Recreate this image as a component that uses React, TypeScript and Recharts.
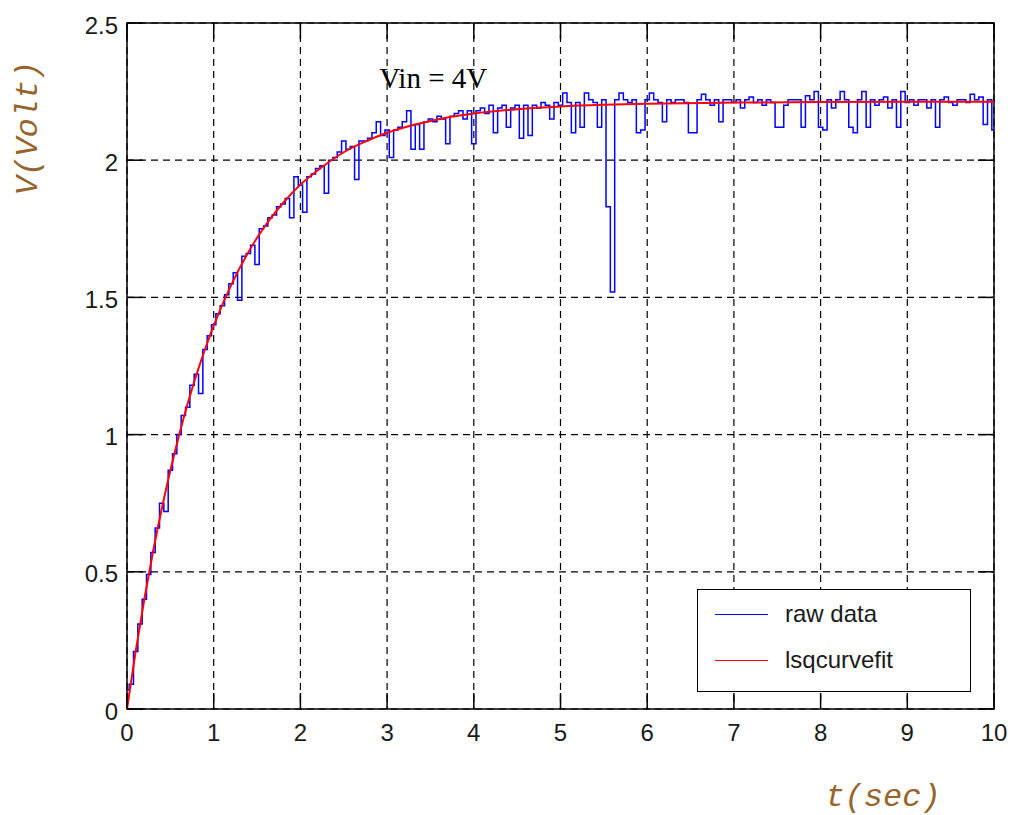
import {
  LineChart,
  Line,
  XAxis,
  YAxis,
  CartesianGrid,
  ReferenceArea,
  ReferenceDot,
} from 'recharts';

// capacitor charging, sampled every 50 ms
const SAMPLE_PERIOD = 0.05;
const rawVolts = [
  0.07, 0.09, 0.21, 0.31, 0.40, 0.49, 0.57, 0.66, 0.75, 0.72,
  0.87, 0.93, 1.00, 1.07, 1.10, 1.18, 1.22, 1.15, 1.31, 1.36,
  1.40, 1.44, 1.47, 1.51, 1.55, 1.59, 1.49, 1.65, 1.66, 1.69,
  1.62, 1.75, 1.76, 1.79, 1.80, 1.83, 1.84, 1.86, 1.79, 1.94,
  1.91, 1.81, 1.94, 1.95, 1.97, 1.98, 1.88, 2.00, 2.01, 2.03,
  2.07, 2.04, 2.05, 1.93, 2.07, 2.07, 2.08, 2.10, 2.14, 2.09,
  2.11, 2.01, 2.11, 2.12, 2.14, 2.18, 2.04, 2.13, 2.04, 2.14,
  2.15, 2.14, 2.16, 2.15, 2.06, 2.16, 2.17, 2.18, 2.15, 2.18,
  2.06, 2.18, 2.19, 2.17, 2.20, 2.10, 2.19, 2.20, 2.12, 2.19,
  2.20, 2.08, 2.20, 2.09, 2.20, 2.19, 2.21, 2.20, 2.15, 2.21,
  2.20, 2.245, 2.21, 2.10, 2.21, 2.12, 2.245, 2.22, 2.21, 2.12,
  2.22, 1.83, 1.52, 2.22, 2.245, 2.22, 2.21, 2.22, 2.10, 2.11,
  2.22, 2.245, 2.22, 2.21, 2.14, 2.22, 2.21, 2.22, 2.22, 2.21,
  2.10, 2.10, 2.22, 2.24, 2.22, 2.20, 2.22, 2.14, 2.22, 2.22,
  2.21, 2.22, 2.19, 2.22, 2.23, 2.21, 2.22, 2.20, 2.22, 2.21,
  2.12, 2.12, 2.20, 2.22, 2.22, 2.22, 2.12, 2.235, 2.22, 2.25,
  2.12, 2.11, 2.22, 2.19, 2.22, 2.25, 2.22, 2.12, 2.10, 2.22,
  2.25, 2.12, 2.22, 2.20, 2.22, 2.23, 2.19, 2.22, 2.12, 2.25,
  2.21, 2.22, 2.20, 2.22, 2.22, 2.19, 2.22, 2.12, 2.22, 2.23,
  2.21, 2.20, 2.22, 2.22, 2.21, 2.24, 2.22, 2.23, 2.13, 2.22,
  2.11,
];

// lsqcurvefit result
const fitTime = [
  0, 0.1, 0.2, 0.3, 0.4, 0.5, 0.6, 0.7, 0.8, 0.9, 1.0, 1.2, 1.4, 1.6, 1.8,
  2.0, 2.25, 2.5, 2.75, 3.0, 3.5, 4.0, 4.5, 5.0, 5.5, 6.0, 7.0, 8.0, 9.0, 10.0,
];
const fitVolts = [
  0, 0.21, 0.4, 0.573, 0.728, 0.869, 0.997, 1.113, 1.217, 1.311, 1.397, 1.544,
  1.665, 1.764, 1.844, 1.911, 1.975, 2.029, 2.068, 2.1, 2.143, 2.17, 2.186,
  2.196, 2.202, 2.206, 2.21, 2.212, 2.213, 2.213,
];

const xTicks = [0, 1, 2, 3, 4, 5, 6, 7, 8, 9, 10];
const yTicks = [0, 0.5, 1, 1.5, 2, 2.5];

const legendItems = [
  { name: 'raw data', color: '#0000ff' },
  { name: 'lsqcurvefit', color: '#ff0000' },
];

const rawData = rawVolts.map((v, i) => ({ t: +(i * SAMPLE_PERIOD).toFixed(2), v }));
const fitData = fitTime.map((t, i) => ({ t, v: fitVolts[i] }));

const W = 1012;
const H = 815;
const PLOT_W = 867;
const PLOT_H = 686;
const TICK_LEN = 16;
const TICK_FONT = { fontFamily: 'Arial, "Liberation Sans", sans-serif', fontSize: 24, fill: '#1a1a1a' };
const TITLE_FONT = {
  fontFamily: '"Liberation Mono", "DejaVu Sans Mono", monospace',
  fontStyle: 'italic',
  fontSize: 32,
  fill: '#97652c',
};

// matlab style: ticks point inward on all four sides
function XTick({ x, y, payload }: any) {
  return (
    <g>
      <line x1={x} y1={y} x2={x} y2={y - TICK_LEN} stroke="#000" strokeWidth={1.5} />
      <line x1={x} y1={y - PLOT_H} x2={x} y2={y - PLOT_H + TICK_LEN} stroke="#000" strokeWidth={1.5} />
      <text x={x} y={y + 23} textAnchor="middle" dominantBaseline="central" {...TICK_FONT}>
        {payload.value}
      </text>
    </g>
  );
}

function YTick({ x, y, payload }: any) {
  return (
    <g>
      <line x1={x} y1={y} x2={x + TICK_LEN} y2={y} stroke="#000" strokeWidth={1.5} />
      <line x1={x + PLOT_W} y1={y} x2={x + PLOT_W - TICK_LEN} y2={y} stroke="#000" strokeWidth={1.5} />
      <text x={x - 9} y={y + 2} textAnchor="end" dominantBaseline="central" {...TICK_FONT}>
        {payload.value}
      </text>
    </g>
  );
}

function LegendBox() {
  return (
    <div
      style={{
        position: 'absolute',
        left: 697,
        top: 589,
        width: 272,
        height: 101,
        border: '1.5px solid #000',
        background: '#fff',
      }}
    >
      {legendItems.map((it, i) => (
        <div
          key={it.name}
          style={{
            position: 'absolute',
            left: 17,
            top: 24 + i * 46 - 16,
            height: 32,
            display: 'flex',
            alignItems: 'center',
          }}
        >
          <div style={{ width: 53, height: 0, borderTop: `1.5px solid ${it.color}` }} />
          <span
            style={{
              marginLeft: 17,
              fontFamily: 'Arial, "Liberation Sans", sans-serif',
              fontSize: 24,
              color: '#1a1a1a',
            }}
          >
            {it.name}
          </span>
        </div>
      ))}
    </div>
  );
}

export default function App() {
  return (
    <div style={{ position: 'absolute', left: 0, top: 0, width: W, height: H, background: '#fff' }}>
      <LineChart width={W} height={H} margin={{ top: 23, right: 18, bottom: 0, left: 0 }}>
        <CartesianGrid stroke="#000" strokeDasharray="7 5" strokeWidth={1.2} />
        <XAxis
          dataKey="t"
          type="number"
          domain={[0, 10]}
          ticks={xTicks}
          interval={0}
          height={106}
          axisLine={false}
          tickLine={false}
          tickSize={0}
          tickMargin={0}
          tick={<XTick />}
          allowDuplicatedCategory={false}
          label={{
            content: ({ viewBox }: any) => (
              <text x={viewBox.x + viewBox.width - 111} y={viewBox.y + 97} textAnchor="middle" {...TITLE_FONT}>
                t(sec)
              </text>
            ),
          }}
        />
        <YAxis
          type="number"
          domain={[0, 2.5]}
          ticks={yTicks}
          interval={0}
          width={127}
          axisLine={false}
          tickLine={false}
          tickSize={0}
          tickMargin={0}
          tick={<YTick />}
          label={{
            content: ({ viewBox }: any) => (
              <text
                x={viewBox.x + 28}
                y={viewBox.y + 105}
                textAnchor="middle"
                dominantBaseline="central"
                transform={`rotate(-90 ${viewBox.x + 28} ${viewBox.y + 105})`}
                {...TITLE_FONT}
              >
                V(Volt)
              </text>
            ),
          }}
        />
        <ReferenceArea x1={0} x2={10} y1={0} y2={2.5} fill="none" stroke="#000" strokeWidth={1.5} fillOpacity={0} />
        <Line
          data={rawData}
          dataKey="v"
          name="raw data"
          type="step"
          stroke="#0000ff"
          strokeWidth={1.5}
          dot={false}
          isAnimationActive={false}
        />
        <Line
          data={fitData}
          dataKey="v"
          name="lsqcurvefit"
          type="monotone"
          stroke="#ff0000"
          strokeWidth={2}
          dot={false}
          isAnimationActive={false}
        />
        <ReferenceDot
          x={2.92}
          y={2.3}
          r={1}
          fill="none"
          stroke="none"
          label={{
            content: ({ viewBox }: any) => (
              <text
                x={viewBox.x}
                y={viewBox.y + 1}
                dominantBaseline="central"
                fontFamily='"Times New Roman", "Liberation Serif", serif'
                fontSize={29}
                fill="#000"
              >
                Vin = 4V
              </text>
            ),
          }}
        />
      </LineChart>
      <LegendBox />
    </div>
  );
}
